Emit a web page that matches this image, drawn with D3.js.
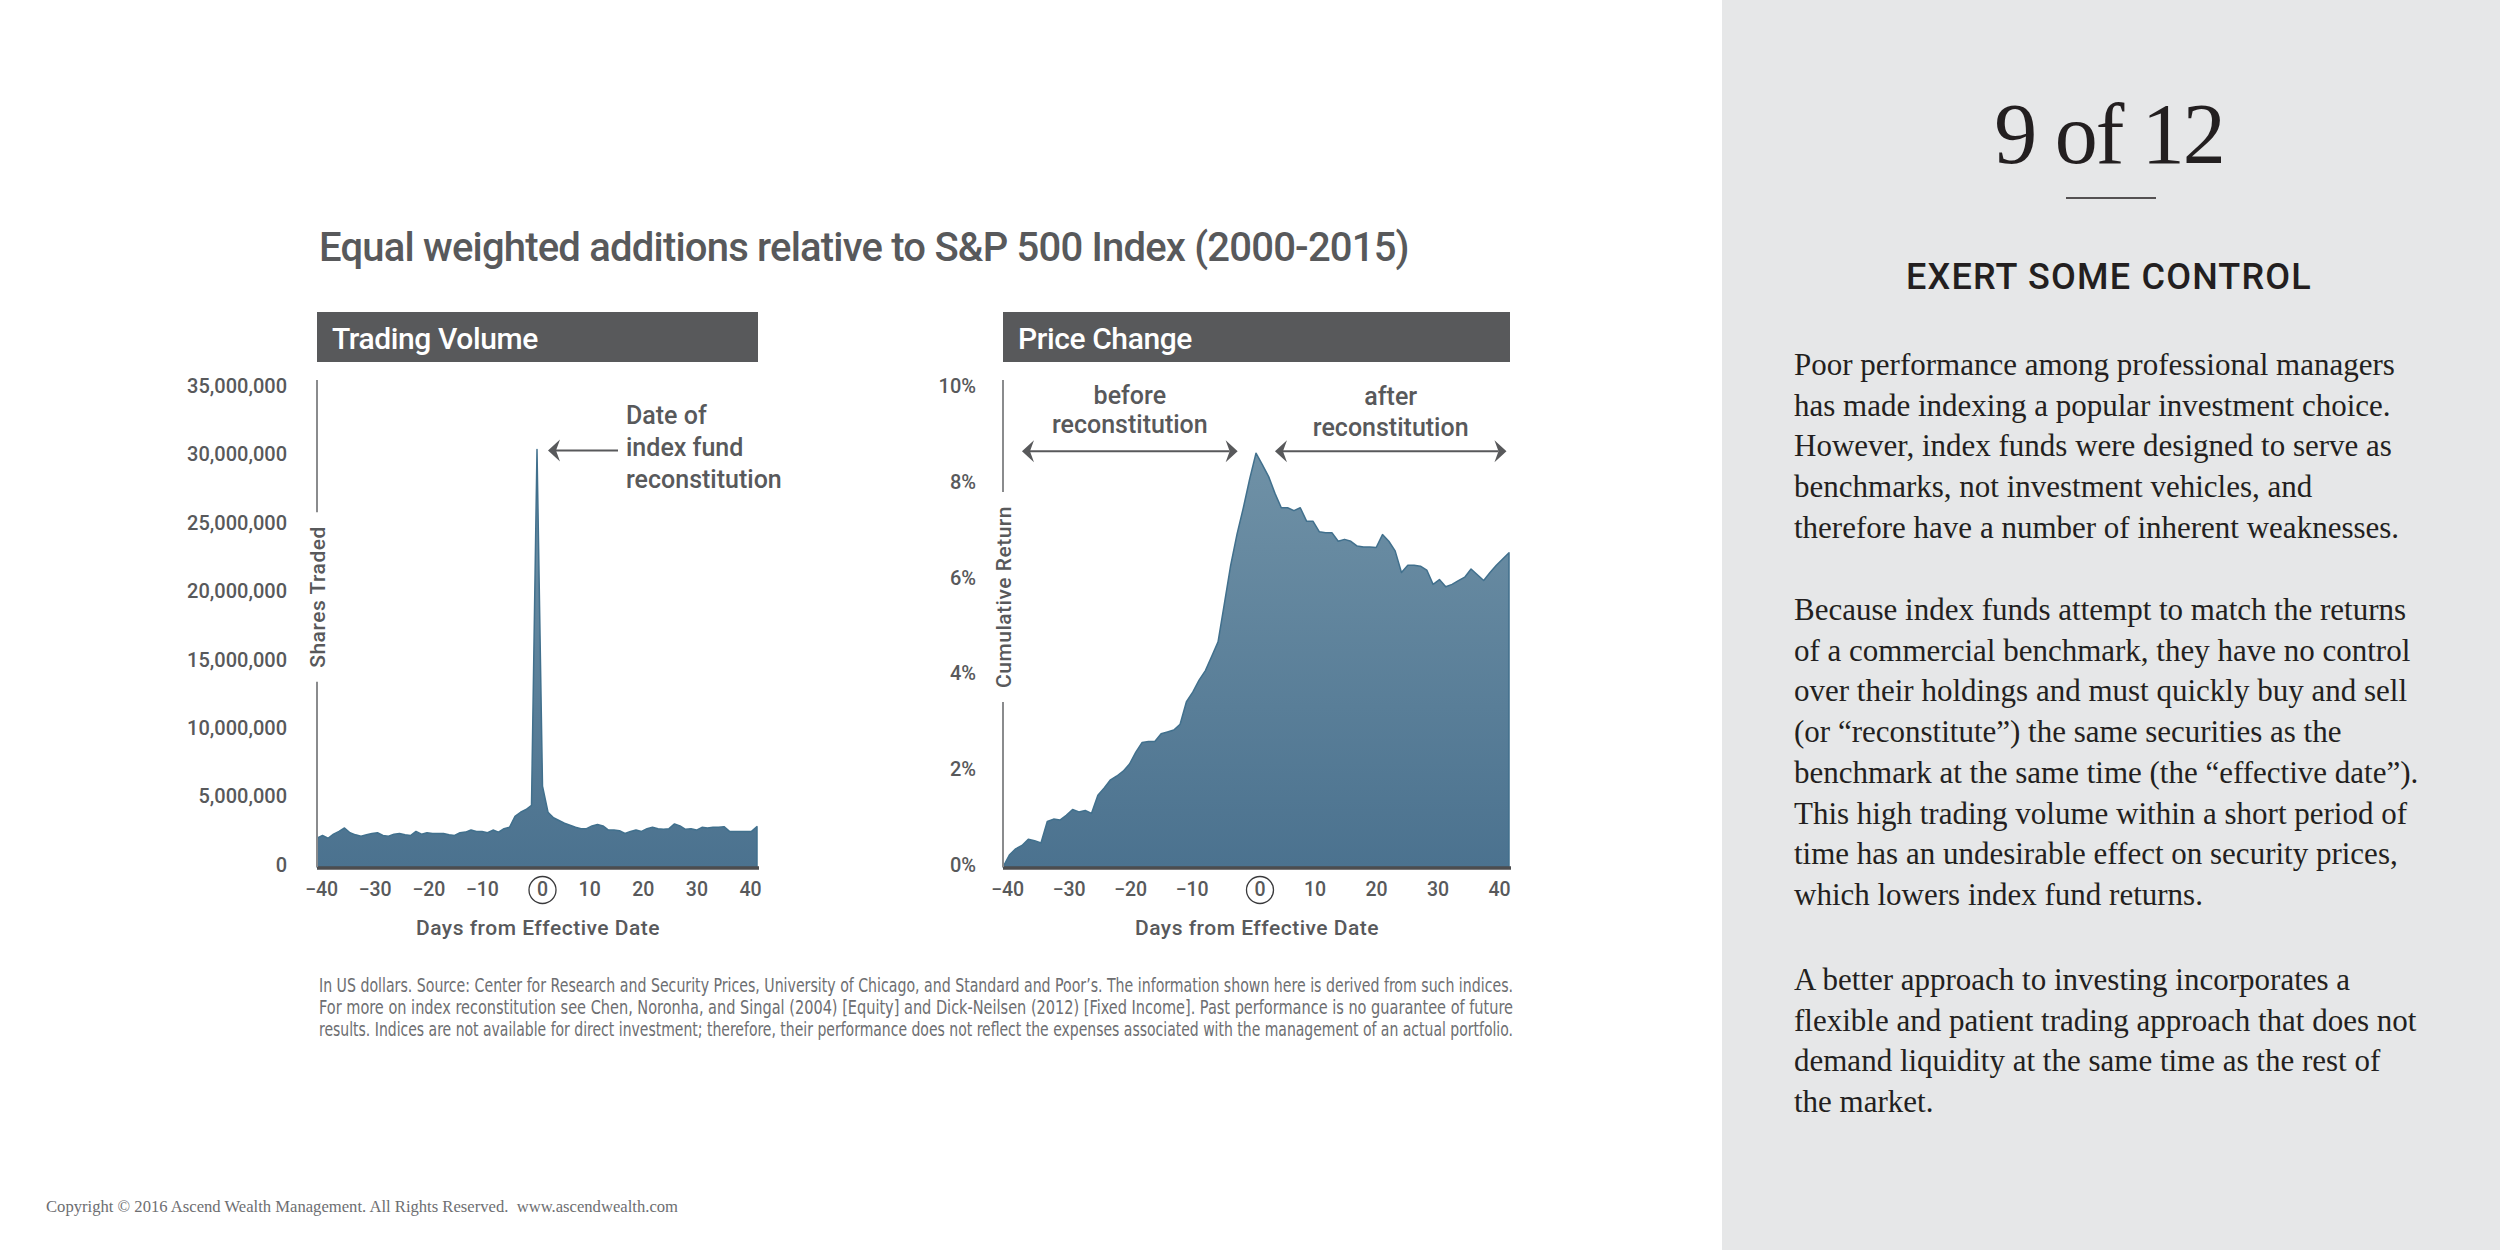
<!DOCTYPE html>
<html>
<head>
<meta charset="utf-8">
<script src="https://cdn.jsdelivr.net/npm/d3@7/dist/d3.min.js"></script>
<style>
	body { margin: 0; background: #fff; }
	svg { display: block; }
</style>
</head>
<body>
<div id="slide"></div>
<script>

/*************************************************************** DONNEES *****/

const days = [-40,-39,-38,-37,-36,-35,-34,-33,-32,-31,-30,-29,-28,-27,-26,-25,-24,-23,-22,-21,
	-20,-19,-18,-17,-16,-15,-14,-13,-12,-11,-10,-9,-8,-7,-6,-5,-4,-3,-2,-1,
	0,1,2,3,4,5,6,7,8,9,10,11,12,13,14,15,16,17,18,19,20,
	21,22,23,24,25,26,27,28,29,30,31,32,33,34,35,36,37,38,39,40];

// shares traded, millions
const volume = [2.1,2.3,2.1,2.4,2.6,2.85,2.5,2.35,2.25,2.35,2.45,2.5,2.3,2.25,2.4,2.45,2.35,2.3,2.6,2.4,
	2.5,2.45,2.45,2.45,2.35,2.3,2.5,2.55,2.7,2.6,2.6,2.5,2.7,2.55,2.8,2.9,3.7,4.0,4.2,4.5,
	30.5,5.9,4.0,3.6,3.4,3.2,3.05,2.9,2.8,2.8,3.0,3.1,3.0,2.7,2.7,2.65,2.45,2.6,2.7,2.6,2.8,
	2.9,2.8,2.75,2.8,3.15,3.0,2.75,2.8,2.7,2.9,2.85,2.9,2.9,2.95,2.6,2.6,2.6,2.6,2.6,2.95];

// cumulative return, %
const priceChange = [0.0,0.25,0.38,0.45,0.58,0.55,0.5,0.95,1.0,0.98,1.08,1.2,1.15,1.18,1.12,1.5,1.65,1.82,1.9,2.0,
	2.15,2.4,2.6,2.62,2.62,2.78,2.82,2.86,2.98,3.45,3.65,3.9,4.1,4.4,4.7,5.5,6.3,6.95,7.5,8.1,
	8.64,8.4,8.15,7.8,7.5,7.5,7.44,7.5,7.22,7.22,7.0,6.98,6.98,6.8,6.84,6.8,6.7,6.68,6.68,6.67,6.94,
	6.8,6.6,6.15,6.3,6.3,6.28,6.2,5.9,6.0,5.85,5.9,5.98,6.05,6.22,6.1,5.98,6.15,6.3,6.43,6.56];

const xTicks = [-40,-30,-20,-10,0,10,20,30,40];
const volumeTicks = [0,5e6,10e6,15e6,20e6,25e6,30e6,35e6];
const priceTicks = [0,2,4,6,8,10];

const chartTitle = "Equal weighted additions relative to S&P 500 Index (2000-2015)";
const panelTitles = ["Trading Volume", "Price Change"];
const yTitles = ["Shares Traded", "Cumulative Return"];
const xTitle = "Days from Effective Date";
const spikeNote = ["Date of", "index fund", "reconstitution"];
const beforeNote = ["before", "reconstitution"];
const afterNote = ["after", "reconstitution"];

const footnote = [
	"In US dollars. Source: Center for Research and Security Prices, University of Chicago, and Standard and Poor’s. The information shown here is derived from such indices.",
	"For more on index reconstitution see Chen, Noronha, and Singal (2004) [Equity] and Dick-Neilsen (2012) [Fixed Income]. Past performance is no guarantee of future",
	"results. Indices are not available for direct investment; therefore, their performance does not reflect the expenses associated with the management of an actual portfolio."
];
const copyright = "Copyright © 2016 Ascend Wealth Management. All Rights Reserved.  www.ascendwealth.com";

const pageNumber = "9 of 12";
const sideHeading = "EXERT SOME CONTROL";
const sideParagraphs = [
	["Poor performance among professional managers",
	 "has made indexing a popular investment choice.",
	 "However, index funds were designed to serve as",
	 "benchmarks, not investment vehicles, and",
	 "therefore have a number of inherent weaknesses."],
	["Because index funds attempt to match the returns",
	 "of a commercial benchmark, they have no control",
	 "over their holdings and must quickly buy and sell",
	 "(or “reconstitute”) the same securities as the",
	 "benchmark at the same time (the “effective date”).",
	 "This high trading volume within a short period of",
	 "time has an undesirable effect on security prices,",
	 "which lowers index fund returns."],
	["A better approach to investing incorporates a",
	 "flexible and patient trading approach that does not",
	 "demand liquidity at the same time as the rest of",
	 "the market."]
];

/*************************************************************** SVG *****/

const width = 2500, height = 1250;
const din = "Roboto, 'DejaVu Sans Condensed', sans-serif";
const serif = "'Liberation Serif', 'DejaVu Serif', serif";
const grey = "#58595b";

const svg = d3.select("#slide")
	.append("svg")
	.attr("width", width)
	.attr("height", height);

const defs = svg.append("defs");
const grad = defs.append("linearGradient")
	.attr("id", "fillGrad")
	.attr("gradientUnits", "userSpaceOnUse")
	.attr("x1", 0).attr("x2", 0)
	.attr("y1", 388).attr("y2", 867);
grad.append("stop").attr("offset", 0).attr("stop-color", "#7596aa");
grad.append("stop").attr("offset", 1).attr("stop-color", "#4b728f");

// side panel
svg.append("rect")
	.attr("x", 1722).attr("y", 0)
	.attr("width", width - 1722).attr("height", height)
	.attr("fill", "#e6e7e8");

// main title
svg.append("text")
	.attr("x", 319).attr("y", 261)
	.attr("font-family", din).attr("font-weight", 500)
	.attr("font-size", 40).attr("fill", grey)
	.attr("letter-spacing", -0.8)
	.text(chartTitle);

/*************************************************************** PANNEAUX *****/

function panel(cfg) {
	const g = svg.append("g");
	const x = d3.scaleLinear().domain([-40, 40]).range(cfg.xRange);
	const y = d3.scaleLinear().domain(cfg.yDomain).range([867, 388]);
	const xLab = x.copy().range(cfg.labRange);

	// header bar
	g.append("rect")
		.attr("x", cfg.xRange[0]).attr("y", 312)
		.attr("width", cfg.xRange[1] - cfg.xRange[0] + 1).attr("height", 50)
		.attr("fill", grey);
	g.append("text")
		.attr("x", cfg.xRange[0] + 15).attr("y", 349)
		.attr("font-family", din).attr("font-weight", 500)
		.attr("font-size", 30).attr("fill", "#fff")
		.attr("letter-spacing", -0.4)
		.text(cfg.title);

	// area
	const area = d3.area()
		.x((d, i) => x(days[i]))
		.y0(y(0))
		.y1(d => y(d));
	g.append("path")
		.datum(cfg.values)
		.attr("d", area)
		.attr("fill", "url(#fillGrad)")
		.attr("stroke", "#41708d")
		.attr("stroke-width", 1.5)
		.attr("stroke-linejoin", "round");

	// baseline
	g.append("line")
		.attr("x1", cfg.xRange[0]).attr("x2", cfg.xRange[1] + 2)
		.attr("y1", y(0) + 1).attr("y2", y(0) + 1)
		.attr("stroke", "#4d4d4f").attr("stroke-width", 3.5);

	// y axis title, rotated, sitting in a gap of the axis line
	const yt = g.append("text")
		.attr("transform", "translate(" + (cfg.xRange[0] + 1) + ",597) rotate(-90)")
		.attr("text-anchor", "middle").attr("dy", "0.35em")
		.attr("font-family", din).attr("font-weight", 500)
		.attr("font-size", 21).attr("fill", grey)
		.attr("letter-spacing", 0.5)
		.text(cfg.yTitle);
	const half = yt.node().getComputedTextLength() / 2 + 14;
	g.append("line")
		.attr("x1", cfg.xRange[0]).attr("x2", cfg.xRange[0])
		.attr("y1", 380).attr("y2", 597 - half)
		.attr("stroke", "#8a8b8d").attr("stroke-width", 2);
	g.append("line")
		.attr("x1", cfg.xRange[0]).attr("x2", cfg.xRange[0])
		.attr("y1", 597 + half).attr("y2", y(0))
		.attr("stroke", "#8a8b8d").attr("stroke-width", 2);

	// y ticks
	const ya = g.append("g")
		.attr("transform", "translate(" + cfg.xRange[0] + ",-2)")
		.call(d3.axisLeft(y).tickValues(cfg.yTicks).tickSize(0).tickPadding(cfg.yPad).tickFormat(cfg.yFormat));
	ya.select(".domain").remove();
	ya.selectAll("text")
		.attr("font-family", din).attr("font-weight", 500)
		.attr("font-size", 20).attr("fill", grey);

	// x ticks
	const xa = g.append("g")
		.attr("transform", "translate(0," + y(0) + ")")
		.call(d3.axisBottom(xLab).tickValues(xTicks).tickSize(0).tickPadding(15).tickFormat(d3.format("d")));
	xa.select(".domain").remove();
	xa.selectAll("text")
		.attr("font-family", din).attr("font-weight", 500)
		.attr("font-size", 19.5).attr("fill", grey);
	const zero = xa.selectAll(".tick").filter(d => d === 0);
	zero.attr("transform", "translate(" + (xLab(0) + 7) + ",0)");
	zero.append("circle")
		.attr("cx", 0).attr("cy", 23)
		.attr("r", 13.5)
		.attr("fill", "none").attr("stroke", "#3a3a3c").attr("stroke-width", 1.3);

	// x axis title
	g.append("text")
		.attr("x", x(0) + 1).attr("y", 935)
		.attr("text-anchor", "middle")
		.attr("font-family", din).attr("font-weight", 500)
		.attr("font-size", 21).attr("fill", grey)
		.attr("letter-spacing", 0.5)
		.text(xTitle);

	return {g: g, x: x, y: y};
}

function arrowHead(g, tx, ty, dir) {
	// kite shaped head, dir = -1 pointing left, +1 pointing right
	const p = d3.path();
	p.moveTo(tx, ty);
	p.lineTo(tx - dir * 12, ty - 11);
	p.lineTo(tx - dir * 8, ty);
	p.lineTo(tx - dir * 12, ty + 11);
	p.closePath();
	g.append("path").attr("d", p.toString()).attr("fill", grey);
}

function note(g, lines, x, y0, step, anchor) {
	const t = g.append("text")
		.attr("font-family", din).attr("font-weight", 500)
		.attr("font-size", 25).attr("fill", grey)
		.attr("text-anchor", anchor);
	lines.forEach((l, i) => {
		t.append("tspan").attr("x", x).attr("y", y0 + i * step).text(l);
	});
}

const left = panel({
	title: panelTitles[0],
	yTitle: yTitles[0],
	values: volume.map(v => v * 1e6),
	xRange: [317, 757],
	labRange: [321, 750],
	yDomain: [0, 35e6],
	yTicks: volumeTicks,
	yPad: 30,
	yFormat: d3.format(",")
});

const right = panel({
	title: panelTitles[1],
	yTitle: yTitles[1],
	values: priceChange,
	xRange: [1003, 1509],
	labRange: [1007, 1499],
	yDomain: [0, 10],
	yTicks: priceTicks,
	yPad: 27,
	yFormat: d => d + "%"
});

/*************************************************************** ANNOTATIONS *****/

// spike arrow
const peakY = left.y(d3.max(volume) * 1e6) + 1;
const tipX = left.x(0) + 11;
left.g.append("line")
	.attr("x1", tipX + 8).attr("x2", 618)
	.attr("y1", peakY).attr("y2", peakY)
	.attr("stroke", grey).attr("stroke-width", 2);
arrowHead(left.g, tipX, peakY, -1);
note(left.g, spikeNote, 626, 424, 32, "start");

// before / after arrows
const arrowY = right.y(8.68);
[[-37, -2.9], [3, 39.6]].forEach(function(r) {
	const a = right.x(r[0]), b = right.x(r[1]);
	right.g.append("line")
		.attr("x1", a + 8).attr("x2", b - 8)
		.attr("y1", arrowY).attr("y2", arrowY)
		.attr("stroke", grey).attr("stroke-width", 2);
	arrowHead(right.g, a, arrowY, -1);
	arrowHead(right.g, b, arrowY, 1);
});
note(right.g, beforeNote, (right.x(-37) + right.x(-2.9)) / 2, 404, 29, "middle");
note(right.g, afterNote, (right.x(3) + right.x(39.6)) / 2, 405, 31, "middle");

/*************************************************************** TEXTES *****/

const foot = svg.append("text")
	.attr("font-family", "'Liberation Sans Narrow', 'Arial Narrow', 'DejaVu Sans Condensed', sans-serif")
	.attr("font-size", 19).attr("fill", "#6d6e71");
footnote.forEach((l, i) => {
	foot.append("tspan")
		.attr("x", 319).attr("y", 992 + i * 22)
		.attr("textLength", 1194).attr("lengthAdjust", "spacingAndGlyphs")
		.text(l);
});

svg.append("text")
	.attr("x", 46).attr("y", 1212)
	.attr("font-family", serif).attr("font-size", 17)
	.attr("fill", "#6d6e71")
	.attr("textLength", 632).attr("lengthAdjust", "spacingAndGlyphs")
	.style("white-space", "pre")
	.text(copyright);

svg.append("text")
	.attr("x", 2109).attr("y", 163)
	.attr("text-anchor", "middle")
	.attr("font-family", serif).attr("font-size", 86)
	.attr("fill", "#231f20")
	.attr("letter-spacing", -2)
	.text(pageNumber);

svg.append("line")
	.attr("x1", 2066).attr("x2", 2156)
	.attr("y1", 198).attr("y2", 198)
	.attr("stroke", "#231f20").attr("stroke-width", 1.5);

svg.append("text")
	.attr("x", 2109).attr("y", 289)
	.attr("text-anchor", "middle")
	.attr("font-family", din).attr("font-weight", 500)
	.attr("font-size", 36).attr("letter-spacing", 1.2)
	.attr("fill", "#231f20")
	.text(sideHeading);

const paraTop = [375, 620, 990];
const body = svg.append("text")
	.attr("font-family", serif).attr("font-size", 31)
	.attr("fill", "#231f20");
sideParagraphs.forEach((para, p) => {
	para.forEach((l, i) => {
		body.append("tspan")
			.attr("x", 1794).attr("y", paraTop[p] + i * 40.7)
			.text(l);
	});
});

</script>
</body>
</html>
